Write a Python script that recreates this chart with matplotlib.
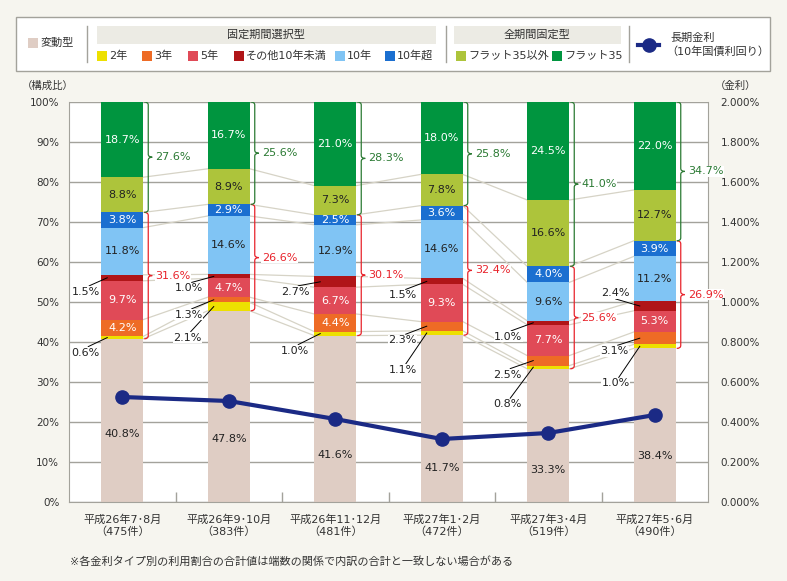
import matplotlib.pyplot as plt
import numpy as np
from matplotlib.path import Path
from matplotlib.patches import PathPatch, Rectangle
from matplotlib.lines import Line2D

plt.rcParams['font.family'] = ['DejaVu Sans', 'Noto Sans CJK JP']

# ---- data ----
periods = ['平成26年7･8月\n（475件）', '平成26年9･10月\n（383件）', '平成26年11･12月\n（481件）',
           '平成27年1･2月\n（472件）', '平成27年3･4月\n（519件）', '平成27年5･6月\n（490件）']
hendo      = [40.8, 47.8, 41.6, 41.7, 33.3, 38.4]   # 変動型
y2         = [0.6, 2.1, 1.0, 1.1, 0.8, 1.0]         # 2年
y3         = [4.2, 1.3, 4.4, 2.3, 2.5, 3.1]         # 3年
y5         = [9.7, 4.7, 6.7, 9.3, 7.7, 5.3]         # 5年
other      = [1.5, 1.0, 2.7, 1.5, 1.0, 2.4]         # その他10年未満
y10        = [11.8, 14.6, 12.9, 14.6, 9.6, 11.2]    # 10年
over10     = [3.8, 2.9, 2.5, 3.6, 4.0, 3.9]         # 10年超
flat_other = [8.8, 8.9, 7.3, 7.8, 16.6, 12.7]       # フラット35以外
flat35     = [18.7, 16.7, 21.0, 18.0, 24.5, 22.0]   # フラット35
fixed_total = [31.6, 26.6, 30.1, 32.4, 25.6, 26.9]  # 固定期間選択型 計
full_total  = [27.6, 25.6, 28.3, 25.8, 41.0, 34.7]  # 全期間固定型 計
rate = [0.525, 0.505, 0.415, 0.315, 0.345, 0.435]   # 長期金利 (%)

series = [hendo, y2, y3, y5, other, y10, over10, flat_other, flat35]
names = ['変動型', '2年', '3年', '5年', 'その他10年未満', '10年', '10年超', 'フラット35以外', 'フラット35']
colors = ['#dfcdc4', '#ede000', '#ee6b25', '#e04a57', '#b01518', '#80c4f4', '#1b6fd0', '#adc43b', '#00953f']
white_txt = [False, True, True, True, True, False, True, False, True]

# ---- style ----
W, H = 787, 581
bg = '#f6f5ef'
gray = '#a3a29b'
txt = '#333333'
red_c = '#e8232b'
green_c = '#2b7a33'
navy = '#1b2a85'
link_c = '#d6d3c6'

ax_l, ax_r, ax_t, ax_b = 69, 708, 102, 502
px_x = 6 / (ax_r - ax_l)
px_y = 100 / (ax_b - ax_t)
bw = 42 * px_x

fig = plt.figure(figsize=(W / 100, H / 100), dpi=100, facecolor=bg)
ax = fig.add_axes([ax_l / W, 1 - ax_b / H, (ax_r - ax_l) / W, (ax_b - ax_t) / H])
ax.set_facecolor('white')
ax.set_xlim(-0.5, 5.5)
ax.set_ylim(0, 100)

x = np.arange(len(periods))
data = np.array(series)
cum = np.vstack([np.zeros(len(x)), np.cumsum(data, axis=0)])

for k, vals in enumerate(series):
    ax.bar(x, vals, bw, bottom=cum[k], color=colors[k], zorder=2, linewidth=0)

# connector lines between bars
for i in range(len(x) - 1):
    for k in range(1, len(series)):
        ax.plot([x[i] + bw / 2, x[i + 1] - bw / 2], [cum[k][i], cum[k][i + 1]],
                color=link_c, lw=0.9, zorder=1.5)

# in-bar labels
var_label_y = [17.0, 15.8, 11.8, 8.6, 8.0, 11.6]
for k, vals in enumerate(series):
    for i, v in enumerate(vals):
        if k in (1, 4) or (k == 2 and v < 4):
            continue
        yy = var_label_y[i] if k == 0 else (cum[k][i] + cum[k + 1][i]) / 2
        ax.text(x[i], yy, f'{v:.1f}%', ha='center', va='center', fontsize=8,
                color='white' if white_txt[k] else '#222222', zorder=4)

# outside labels with leader lines: (bar, segment, dx px, dy px down)
leaders = [(0, 4, -21, 14), (0, 1, -22, 15),
           (1, 4, -25, 12), (1, 2, -25, 15), (1, 1, -26, 31),
           (2, 4, -25, 10), (2, 1, -25, 17),
           (3, 4, -24, 14), (3, 2, -24, 14), (3, 1, -24, 37),
           (4, 4, -25, 14), (4, 2, -26, 14), (4, 1, -26, 37),
           (5, 4, -24, -13), (5, 2, -25, 13), (5, 1, -24, 37)]
for i, k, dx, dy in leaders:
    ex = x[i] - bw / 2 + 6 * px_x
    ey = (cum[k][i] + cum[k + 1][i]) / 2
    tx = ex + dx * px_x
    ty = ey - dy * px_y
    if dy > 0:
        sx, sy = tx + 3 * px_x, ty + 6 * px_y
    else:
        sx, sy = tx, ty - 6 * px_y
    ax.plot([sx, ex], [sy, ey], color='black', lw=0.7, zorder=3)
    ax.text(tx, ty, f'{series[k][i]:.1f}%', ha='center', va='center', fontsize=8,
            color='#222222', zorder=4, bbox=dict(boxstyle='square,pad=0.05', fc='white', ec='none'))


def brace(xr, bot, top, color, label):
    mid = (bot + top) / 2
    a, b, c = xr + 1 * px_x, xr + 5 * px_x, xr + 9 * px_x
    h = 3 * px_y
    verts = [(a, top), (b, top), (b, top - h), (b, mid + h), (b, mid), (c, mid),
             (b, mid), (b, mid - h), (b, bot + h), (b, bot), (a, bot)]
    codes = [Path.MOVETO, Path.CURVE3, Path.CURVE3, Path.LINETO, Path.CURVE3, Path.CURVE3,
             Path.CURVE3, Path.CURVE3, Path.LINETO, Path.CURVE3, Path.CURVE3]
    ax.add_patch(PathPatch(Path(verts, codes), fc='none', ec=color, lw=0.9, zorder=3))
    ax.text(xr + 12 * px_x, mid, label, ha='left', va='center', fontsize=8, color=color,
            zorder=4, bbox=dict(boxstyle='square,pad=0.05', fc='white', ec='none'))


for i in range(len(x)):
    xr = x[i] + bw / 2
    brace(xr, cum[1][i], cum[7][i], red_c, f'{fixed_total[i]:.1f}%')
    brace(xr, cum[7][i], 100, green_c, f'{full_total[i]:.1f}%')

# axes styling
ax.set_yticks(np.arange(0, 101, 10))
ax.set_yticklabels([f'{v}%' for v in range(0, 101, 10)])
ax.yaxis.grid(True, color=gray, lw=1)
ax.set_axisbelow(True)
ax.tick_params(axis='y', length=0, pad=7, labelsize=7.5, labelcolor=txt)
ax.set_xticks(x)
ax.set_xticklabels(periods, fontsize=8, color=txt, linespacing=1.15)
ax.tick_params(axis='x', which='major', length=0, pad=9)
ax.set_xticks(np.arange(0.5, 5, 1), minor=True)
ax.tick_params(axis='x', which='minor', direction='in', length=7, color=gray, width=1)
for s in ('left', 'bottom', 'right'):
    ax.spines[s].set_color(gray)
ax.spines['top'].set_visible(False)

ax2 = ax.twinx()
ax2.set_ylim(0, 2)
ax2.plot(x, rate, color=navy, lw=3, marker='o', markersize=9.5, zorder=5)
ax2.set_yticks(np.arange(0, 2.01, 0.2))
ax2.set_yticklabels([f'{v:.3f}%' for v in np.arange(0, 2.01, 0.2)])
ax2.tick_params(axis='y', length=0, pad=9, labelsize=7.5, labelcolor=txt)
for s in ax2.spines.values():
    s.set_visible(False)

fig.text(22 / W, 1 - 86 / H, '（構成比）', fontsize=7.5, color=txt, va='center')
fig.text(715 / W, 1 - 86 / H, '（金利）', fontsize=7.5, color=txt, va='center')
fig.text(70 / W, 1 - 561 / H, '※各金利タイプ別の利用割合の合計値は端数の関係で内訳の合計と一致しない場合がある',
         fontsize=8, color=txt, va='center')

# ---- legend (pixel coordinates) ----
lg = fig.add_axes([0, 0, 1, 1], facecolor='none')
lg.set_xlim(0, W)
lg.set_ylim(H, 0)
lg.axis('off')
lg.add_patch(Rectangle((16, 17), 754, 54, fc='white', ec=gray, lw=1))
for sx in (87, 446, 629):
    lg.plot([sx, sx], [26, 62], color=gray, lw=1)
lg.add_patch(Rectangle((97, 26), 339, 18, fc='#ecebe4', ec='none'))
lg.add_patch(Rectangle((454, 26), 167, 18, fc='#ecebe4', ec='none'))
lg.text(266, 35, '固定期間選択型', ha='center', va='center', fontsize=8, color=txt)
lg.text(537, 35, '全期間固定型', ha='center', va='center', fontsize=8, color=txt)


def swatch(px, py, k):
    lg.add_patch(Rectangle((px, py - 5), 10, 10, fc=colors[k], ec='none'))
    lg.text(px + 12, py, names[k], ha='left', va='center', fontsize=8, color=txt)


swatch(28, 43, 0)
for px, k in zip([97, 142, 188, 234, 335, 385], [1, 2, 3, 4, 5, 6]):
    swatch(px, 55.5, k)
for px, k in zip([456, 552], [7, 8]):
    swatch(px, 55.5, k)
lg.add_line(Line2D([638, 659], [45, 45], color=navy, lw=3, marker='o', markersize=9.5,
                   markevery=[], zorder=5))
lg.plot([648.5], [45], marker='o', color=navy, markersize=9.5)
lg.text(670, 38, '長期金利', ha='left', va='center', fontsize=8, color=txt)
lg.text(666, 52, '（10年国債利回り）', ha='left', va='center', fontsize=8, color=txt)

fig.savefig('out.png', dpi=100, facecolor=bg)
